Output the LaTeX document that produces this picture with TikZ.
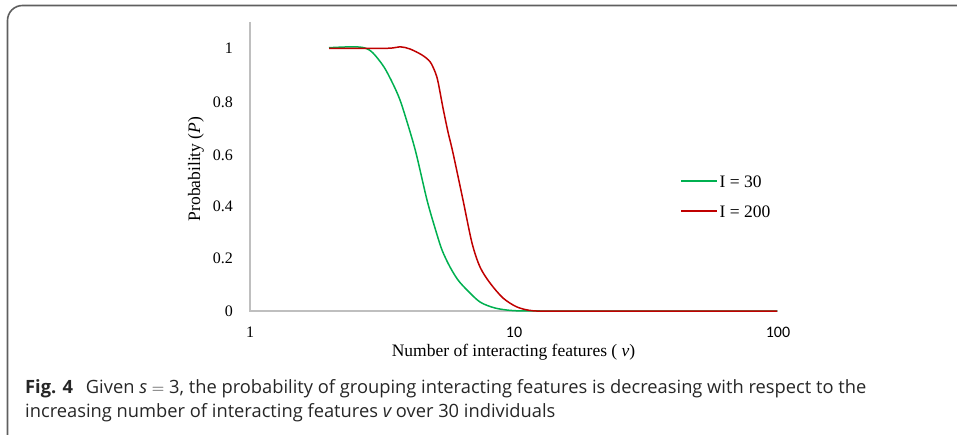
\documentclass[tikz,border=0pt]{standalone}
\usepackage{fontspec}
\setmainfont{Liberation Serif}
\newfontfamily\capfont{Open Sans}
\newfontfamily\calfont{Carlito}
\definecolor{cgreen}{RGB}{0,176,80}
\definecolor{cred}{RGB}{192,0,0}
\definecolor{axisgray}{RGB}{191,191,191}
\definecolor{framegray}{RGB}{95,95,95}
\tikzset{
  axisline/.style={draw=axisgray, line width=1.2pt},
  curveG/.style={draw=cgreen, line width=1.5pt, smooth, tension=0.5},
  curveR/.style={draw=cred, line width=1.5pt, smooth, tension=0.5},
  ylab/.style={anchor=east, inner sep=0pt, font=\fontsize{16}{18}\selectfont},
  xlab/.style={inner sep=0pt, font=\fontsize{16}{18}\selectfont},
  xlabsans/.style={inner sep=0pt, font=\calfont\fontsize{16}{18}\selectfont},
  axtitle/.style={inner sep=0pt, font=\fontsize{17.5}{20}\selectfont},
  legtext/.style={anchor=west, inner sep=0pt, font=\fontsize{17.5}{20}\selectfont},
  captext/.style={anchor=base west, inner sep=0pt, font=\capfont\fontsize{18.3}{20}\selectfont, text=black!85}
}
\begin{document}
\begin{tikzpicture}[x=1pt,y=-1pt]
\useasboundingbox (0,0) rectangle (957,435);
\begin{scope}
\clip (0,0) rectangle (957,435);
\draw[framegray, line width=1.6pt, rounded corners=15pt] (7.5,5.5) rectangle (990,455);
\end{scope}
% axes
\coordinate (ytop) at (250,22);
\coordinate (O) at (250,311);
\coordinate (xend) at (778,311);
\draw[axisline] (ytop) -- (O) -- (xend);
% y tick labels
\node[ylab] (y1) at (233,48) {1};
\node[ylab] (y08) at (233,102) {0.8};
\node[ylab] (y06) at (233,155) {0.6};
\node[ylab] (y04) at (233,206.5) {0.4};
\node[ylab] (y02) at (233,258) {0.2};
\node[ylab] (y00) at (233,311) {0};
% x tick labels
\node[xlab] (x1) at (250,332) {1};
\node[xlabsans] (x10) at (514,332) {10};
\node[xlabsans] (x100) at (778,332) {100};
% axis titles
\node[axtitle, anchor=base] (xt) at (513.5,356) {Number of interacting features ( \textit{v})};
\node[axtitle, rotate=90] (yt) at (196,169) {Probability (\textit{P})};
% curves
\draw[curveG] plot coordinates {(329,47.7) (353,46.8) (365,48) (373,53) (384,67) (393,84) (400,100) (408,125) (416,153) (427,200) (435,228) (442,250) (450,267) (458,280) (467,290) (480,302) (495,308) (513,310.6) (540,311) (600,311) (777,311)};
\draw[curveR] plot coordinates {(329,48.5) (387,48.3) (400,46.8) (410,49) (422,55) (430,61.7) (435,71.7) (438,81.7) (443,108) (448,132) (453,153) (463,200) (472,243) (480,267) (490,283) (503,298) (517,307) (533,310.8) (560,311) (620,311) (777,311)};
% legend
\coordinate (lgA) at (681,181);
\coordinate (lgB) at (717,181);
\coordinate (lrA) at (681,211);
\coordinate (lrB) at (717,211);
\draw[cgreen, line width=1.5pt] (lgA) -- (lgB);
\draw[cred, line width=1.5pt] (lrA) -- (lrB);
\node[legtext] (lg) at (719.5,182) {I = 30};
\node[legtext] (lr) at (719.5,212) {I = 200};
% caption
\node[captext] (cap1) at (25,393.3) {\textbf{Fig. 4}\hspace{8pt} Given {\itshape s} $=$ 3, the probability of grouping interacting features is decreasing with respect to the};
\node[captext] (cap2) at (25,417.3) {increasing number of interacting features {\itshape v} over 30 individuals};
\end{tikzpicture}
\end{document}
